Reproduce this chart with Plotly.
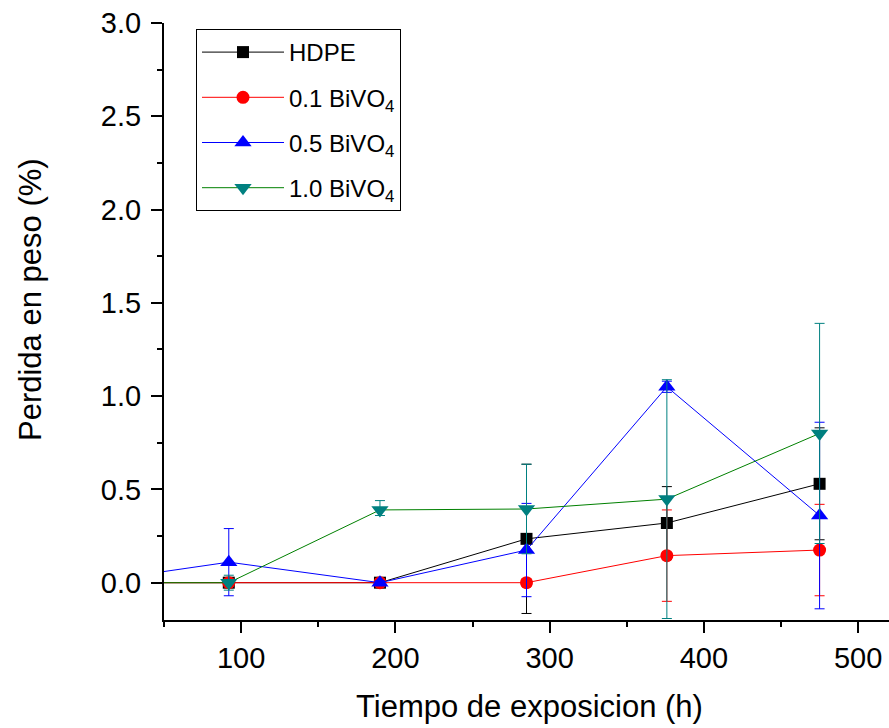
import plotly.graph_objects as go

hours = [0, 92, 190, 285, 376, 475]

hdpe = [0, 0, 0, 0.235, 0.32, 0.53]
hdpe_err = [0, 0.02, 0.02, 0.40, 0.195, 0.30]

bivo_01 = [0, 0, 0, 0, 0.145, 0.175]
bivo_01_err = [0, 0.02, 0.02, 0.02, 0.245, 0.245]

bivo_05 = [0, 0.11, 0, 0.175, 1.05, 0.36]
bivo_05_err = [0, 0.18, 0.01, 0.25, 0.03, 0.50]

bivo_10 = [0, 0, 0.39, 0.395, 0.448, 0.80]
bivo_10_err = [0, 0.04, 0.05, 0.24, 0.64, 0.59]
bivo_10_err_minus = [0, 0.04, 0.03, 0.24, 0.64, 0.59]

names = ["HDPE", "0.1 BiVO<sub>4</sub>", "0.5 BiVO<sub>4</sub>", "1.0 BiVO<sub>4</sub>"]

series = [
    (hdpe, hdpe_err, hdpe_err, "black", "black", "black", "square", 12),
    (bivo_01, bivo_01_err, bivo_01_err, "red", "red", "red", "circle", 13),
    (bivo_05, bivo_05_err, bivo_05_err, "blue", "blue", "blue", "triangle-up", 15),
    (bivo_10, bivo_10_err, bivo_10_err_minus, "#008000", "#008080", "#008080", "triangle-down", 15),
]

fig = go.Figure()
for i, (name, (vals, errs, errs_m, lc, mc, ec, sym, size)) in enumerate(zip(names, series)):
    fig.add_trace(go.Scatter(
        x=hours, y=vals, name=name, mode="lines+markers",
        legendgroup=f"g{i}",
        line=dict(color=lc, width=1),
        marker=dict(color=mc, symbol=sym, size=size, line=dict(width=0)),
        error_y=dict(type="data", array=errs, arrayminus=errs_m, symmetric=False,
                     visible=True, color=ec, thickness=1, width=5),
        cliponaxis=True,
    ))

font = "Liberation Sans, Arial, sans-serif"
W, H = 889, 728
ML, MR, MT, MB = 164, 0, 23, 108
plot_w = W - ML - MR
plot_h = H - MT - MB


def px_x(px):
    return (px - ML) / plot_w


def px_y(py):
    return (H - MB - py) / plot_h


fig.update_layout(
    width=W, height=H,
    margin=dict(l=ML, r=MR, t=MT, b=MB),
    paper_bgcolor="white", plot_bgcolor="white",
    font=dict(family=font, size=29, color="black"),
    showlegend=True,
    legend=dict(
        x=px_x(196), y=px_y(29), xanchor="left", yanchor="top",
        bordercolor="black", borderwidth=1, bgcolor="white",
        font=dict(size=24, family=font), tracegroupgap=11,
        itemwidth=82,
    ),
    xaxis=dict(
        range=[50, 520], tickvals=[100, 200, 300, 400, 500],
        showgrid=False, zeroline=False,
        showline=True, linecolor="black", linewidth=2,
        ticks="outside", ticklen=11, tickwidth=1.5, tickcolor="black",
        minor=dict(ticks="outside", ticklen=5, dtick=50, tickcolor="black", tickwidth=1.5),
        tickfont=dict(size=29),
    ),
    yaxis=dict(
        range=[-0.2, 3.0], tickvals=[0, 0.5, 1.0, 1.5, 2.0, 2.5, 3.0],
        ticktext=["0.0", "0.5", "1.0", "1.5", "2.0", "2.5", "3.0"],
        showgrid=False, zeroline=False,
        showline=True, linecolor="black", linewidth=2,
        ticks="outside", ticklen=11, tickwidth=1.5, tickcolor="black",
        minor=dict(ticks="outside", ticklen=5, dtick=0.25, tickcolor="black", tickwidth=1.5),
        tickfont=dict(size=29), ticklabelstandoff=4,
    ),
    annotations=[
        dict(text="Perdida en peso (%)", textangle=-90,
             x=px_x(30), y=px_y(300), xref="paper", yref="paper",
             xanchor="center", yanchor="middle",
             showarrow=False, font=dict(size=31)),
        dict(text="Tiempo de exposicion (h)",
             x=px_x(529), y=px_y(706), xref="paper", yref="paper",
             xanchor="center", yanchor="middle",
             showarrow=False, font=dict(size=31)),
    ],
)

fig.write_html("out.html")
